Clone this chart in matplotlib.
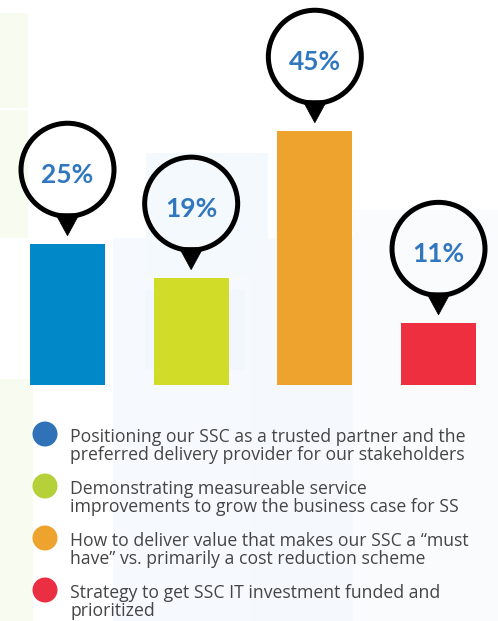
import matplotlib
matplotlib.use("Agg")
import matplotlib.pyplot as plt
from matplotlib.patches import Circle, Polygon, Rectangle
from matplotlib.transforms import Affine2D, ScaledTranslation

# dados
valores = [25, 19, 45, 11]
cores_barras = ["#0088c9", "#d1dc28", "#eea32e", "#ed2f3f"]
cores_legenda = ["#2f72b8", "#b6d03a", "#eea32e", "#ea2f42"]
rotulos = [
    "Positioning our SSC as a trusted partner and the\npreferred delivery provider for our stakeholders",
    "Demonstrating measureable service\nimprovements to grow the business case for SS",
    "How to deliver value that makes our SSC a \u201cmust\nhave\u201d vs. primarily a cost reduction scheme",
    "Strategy to get SSC IT investment funded and\nprioritized",
]

W, H = 498, 621
fig = plt.figure(figsize=(W / 100, H / 100), dpi=100)

# fundo com quadrados claros
bg = fig.add_axes([0, 0, 1, 1], zorder=0)
bg.set_xlim(0, W)
bg.set_ylim(H, 0)
bg.axis("off")
quadrados = [
    (0, 13, 28, 95, "#f8fbf0"), (0, 110, 28, 128, "#f8fbf0"), (0, 379, 33, 242, "#f8fbf0"),
    (113, 238, 140, 383, "#f6fafe"), (146, 153, 122, 122, "#f4f9fe"),
    (250, 238, 103, 383, "#f5f9fe"), (353, 210, 145, 411, "#f9fbfd"),
    (145, 290, 100, 80, "#f1f7fd"),
]
for x0, y0, w, h, c in quadrados:
    bg.add_patch(Rectangle((x0, y0), w, h, color=c, lw=0))

# barras
base = 385
px_por_pct = 5.65
ax = fig.add_axes([0, (H - base) / H, 1, base / H], zorder=1)
ax.patch.set_alpha(0)
passo = 123.67
ax.set_xlim(-67.5 / passo, (W - 67.5) / passo)
ax.set_ylim(0, base / px_por_pct)
ax.axis("off")
pos = list(range(len(valores)))
ax.bar(pos, valores, width=75 / passo, color=cores_barras, linewidth=0)

# balões com o valor
for i, v in zip(pos, valores):
    tr = Affine2D() + ScaledTranslation(i, v, ax.transData)
    ax.add_patch(Circle((0, 74), 46.5, transform=tr, fill=False, ec="black",
                        lw=3.6, clip_on=False))
    ax.add_patch(Polygon([(-12, 30), (12, 30), (0, 8)], closed=True, transform=tr,
                         fc="black", ec="black", lw=0.5, clip_on=False))
    ax.text(0, 61, f"{v}%", transform=tr, ha="center", va="baseline",
            fontsize=19, fontweight="bold", family="Lato", color="#3077bf",
            clip_on=False)

# legenda
y_legenda = [442, 494, 546, 598]
for y, c, txt in zip(y_legenda, cores_legenda, rotulos):
    bg.add_patch(Circle((45, y - 8), 12.5, color=c, lw=0))
    for k, linha in enumerate(txt.split("\n")):
        bg.text(70, y + 18 * k, linha, ha="left", va="baseline", fontsize=12.7,
                family="Open Sans", color="#454545")

fig.savefig("out.png", dpi=100)
